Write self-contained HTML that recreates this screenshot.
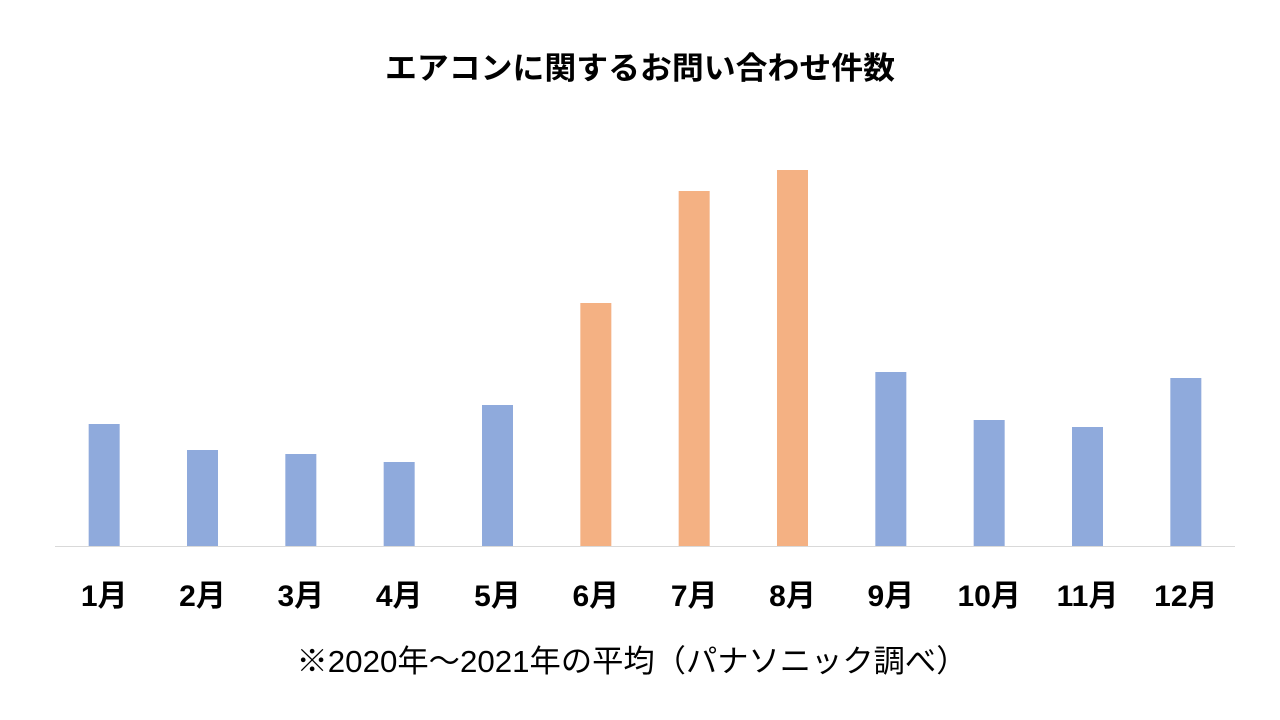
<!DOCTYPE html>
<html><head><meta charset="utf-8">
<style>
body{margin:0;width:1280px;height:720px;background:#fff;overflow:hidden;font-family:"Liberation Sans","Noto Sans CJK JP",sans-serif;}
svg{display:block}
</style></head>
<body>
<svg id="chart" width="1280" height="720">
<text x="640" y="79" text-anchor="middle" font-size="31" font-weight="bold" fill="#000" font-family="Liberation Sans, Noto Sans CJK JP, sans-serif" textLength="510" lengthAdjust="spacingAndGlyphs">エアコンに関するお問い合わせ件数</text>
<line x1="55" y1="546.5" x2="1235" y2="546.5" stroke="#d9d9d9" stroke-width="1"/>
<g id="bars"></g>
<g id="labels"></g>
<text x="632" y="672" text-anchor="middle" font-size="31" fill="#000" font-family="Liberation Sans, Noto Sans CJK JP, sans-serif" textLength="671" lengthAdjust="spacingAndGlyphs">※2020年～2021年の平均（パナソニック調べ）</text>
</svg>
<script>
const categories = ["1月","2月","3月","4月","5月","6月","7月","8月","9月","10月","11月","12月"];
const values = [122,96,92,84,141,243,355,376,174,126,119,168];
const highlight = [false,false,false,false,false,true,true,true,false,false,false,false];

const ns="http://www.w3.org/2000/svg";
const left=55, right=1235, base=546, maxV=400, plotH=400;
const slot=(right-left)/categories.length;
const barW=31;
function xCenter(i){return left+slot*(i+0.5);}
function yScale(v){return base - v/maxV*plotH;}
const bars=document.getElementById('bars');
const labels=document.getElementById('labels');
categories.forEach((c,i)=>{
  const r=document.createElementNS(ns,'rect');
  const y=yScale(values[i]);
  r.setAttribute('x',xCenter(i)-barW/2);
  r.setAttribute('y',y);
  r.setAttribute('width',barW);
  r.setAttribute('height',base-y);
  r.setAttribute('fill',highlight[i]?'#f4b183':'#8faadc');
  
  
  bars.appendChild(r);
  const t=document.createElementNS(ns,'text');
  t.setAttribute('x',xCenter(i));
  t.setAttribute('y',606);
  t.setAttribute('text-anchor','middle');
  t.setAttribute('font-size','30');
  t.setAttribute('font-weight','bold');
  t.textContent=c;
  
  
  labels.appendChild(t);
});
</script>
</body></html>
